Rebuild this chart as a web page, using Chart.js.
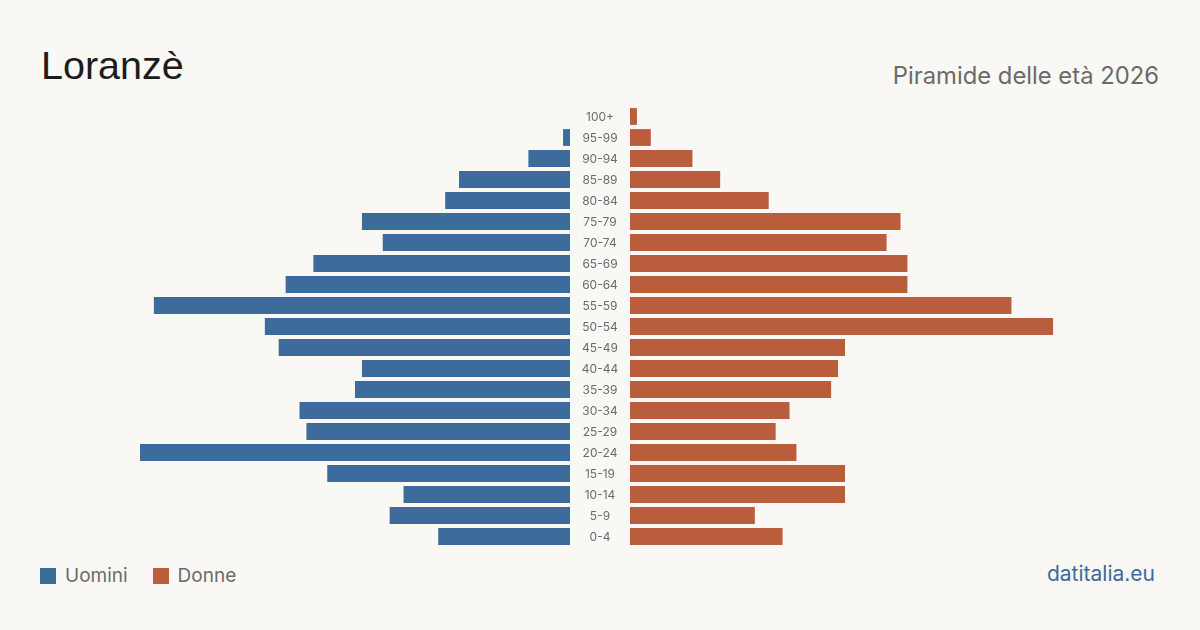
<!DOCTYPE html>
<html>
<head>
<meta charset="utf-8">
<script src="https://cdn.jsdelivr.net/npm/chart.js@4.4.1/dist/chart.umd.min.js"></script>
<style>
  html, body { margin:0; padding:0; background:#f9f8f4; }
  #wrap { position:relative; width:1200px; height:630px; background:#f9f8f4; overflow:hidden; font-family: Inter, "Liberation Sans", sans-serif; }
  #title { position:absolute; left:41px; top:46px; font-family:"Liberation Sans", Arial, sans-serif; font-size:39.5px; color:#1c1c1c; line-height:1; white-space:nowrap; }
  #subtitle { position:absolute; right:41px; top:64px; font-size:23.8px; color:#6b6b6b; line-height:1; white-space:nowrap; }
  #legend { position:absolute; left:40px; top:568px; height:16px; display:flex; align-items:center; font-size:19px; color:#6b6b6b; line-height:16px; }
  .sw { display:inline-block; width:16px; height:16px; margin-right:9px; flex:none; }
  .item { display:flex; align-items:center; margin-right:25px; }
  #source { position:absolute; right:45px; top:563px; font-size:21px; color:#3c6a9c; line-height:1; }
  canvas { position:absolute; }
</style>
</head>
<body>
<div id="wrap">
  <div id="title">Loranzè</div>
  <div id="subtitle">Piramide delle età 2026</div>
  <canvas id="men" width="430" height="441" style="left:140px;top:106px;width:430px;height:441px;"></canvas>
  <canvas id="women" width="490" height="441" style="left:570px;top:106px;width:490px;height:441px;"></canvas>
  <div id="legend"></div>
  <div id="source">datitalia.eu</div>
</div>
<script>
const ageGroups = ["100+","95-99","90-94","85-89","80-84","75-79","70-74","65-69","60-64","55-59","50-54","45-49","40-44","35-39","30-34","25-29","20-24","15-19","10-14","5-9","0-4"];
const menValues = [0,1,6,16,18,30,27,37,41,60,44,42,30,31,39,38,62,35,24,26,19];
const womenValues = [1,3,9,13,20,39,37,40,40,55,61,31,30,29,23,21,24,31,31,18,22];
const seriesNames = ["Uomini","Donne"];
const seriesColors = ["#3d6b9c","#b95d3d"];
const axisMax = Math.max(...menValues, ...womenValues);

const legendEl = document.getElementById('legend');
seriesNames.forEach((n,i)=>{
  const it = document.createElement('div'); it.className='item';
  const sw = document.createElement('span'); sw.className='sw'; sw.style.background=seriesColors[i];
  it.appendChild(sw); it.appendChild(document.createTextNode(n));
  legendEl.appendChild(it);
});

const tickFont = { family: 'Inter, "Liberation Sans", sans-serif', size: 12, lineHeight: 0 };
const mctx = document.createElement('canvas').getContext('2d');
mctx.font = tickFont.size + 'px ' + tickFont.family;
const widest = Math.max(...ageGroups.map(l=>mctx.measureText(l).width));
const labelCol = 60;

const common = {
  responsive:false, animation:false, devicePixelRatio:1,
  indexAxis:'y',
  layout:{ padding:0 },
  plugins:{ legend:{display:false}, tooltip:{enabled:false}, title:{display:false} },
};

new Chart(document.getElementById('men'), {
  type:'bar',
  data:{ labels:ageGroups, datasets:[{ label:seriesNames[0], data:menValues, backgroundColor:seriesColors[0], barPercentage:0.8, categoryPercentage:1, borderWidth:0 }] },
  options:Object.assign({}, common, {
    scales:{
      x:{ display:false, reverse:true, min:0, max:axisMax },
      y:{ display:false }
    }
  })
});

new Chart(document.getElementById('women'), {
  type:'bar',
  data:{ labels:ageGroups, datasets:[{ label:seriesNames[1], data:womenValues, backgroundColor:seriesColors[1], barPercentage:0.8, categoryPercentage:1, borderWidth:0 }] },
  options:Object.assign({}, common, {
    scales:{
      x:{ display:false, min:0, max:axisMax },
      y:{
        display:true,
        grid:{ display:false, drawTicks:true, tickLength: labelCol/2 - widest/2 },
        border:{ display:false },
        afterFit:(s)=>{ s.width = labelCol; },
        ticks:{ color:'#6b6b6b', font:tickFont, crossAlign:'center', padding:0, autoSkip:false, labelOffset:1 }
      }
    }
  })
});
</script>
</body>
</html>
